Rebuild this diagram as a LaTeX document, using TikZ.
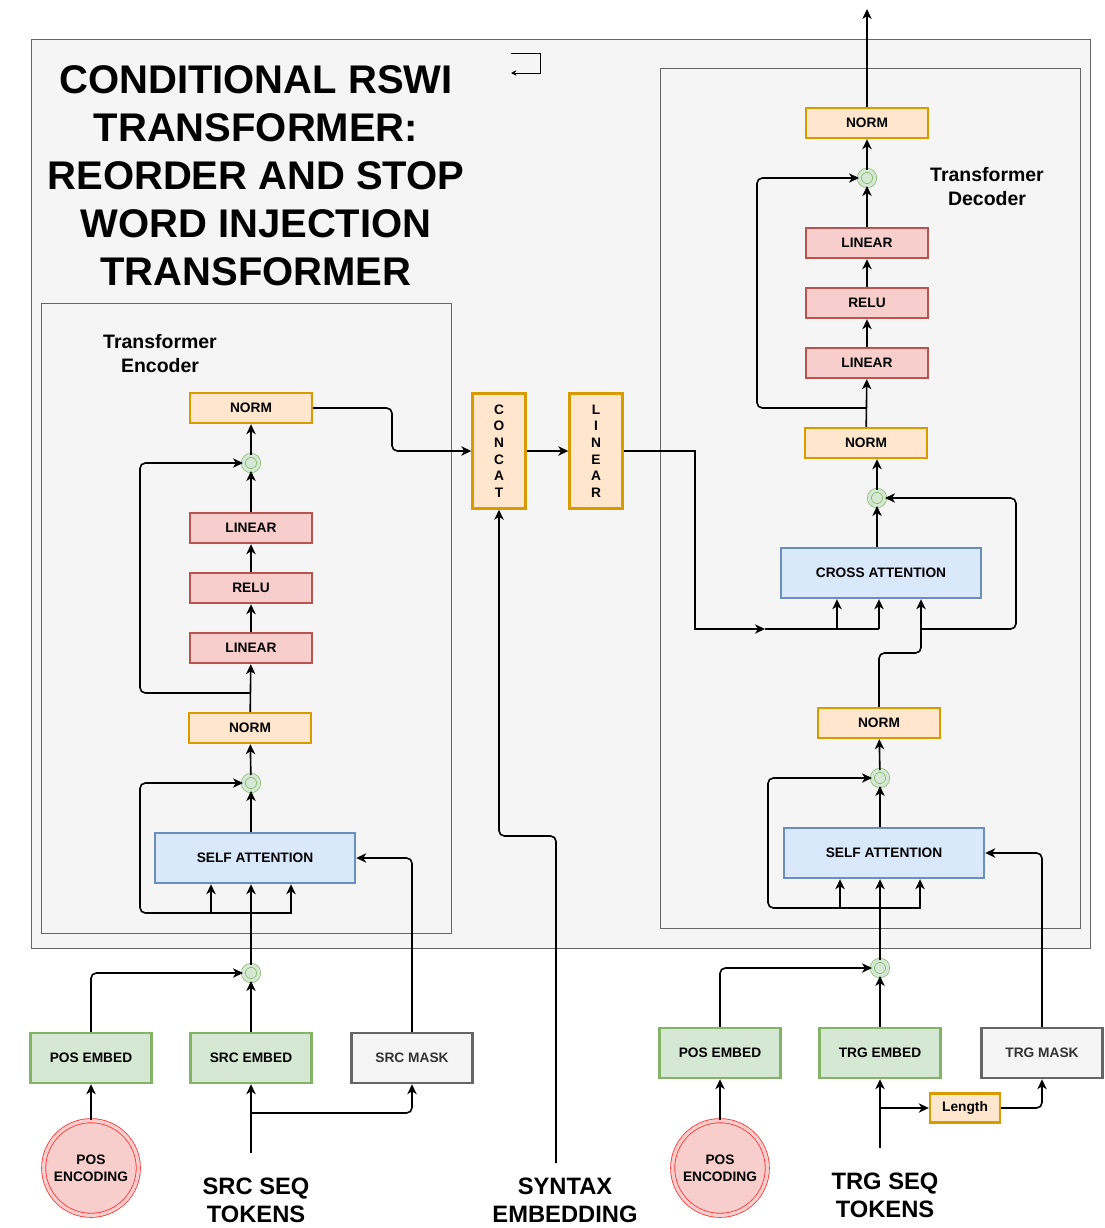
\documentclass[tikz,border=0pt]{standalone}
\usepackage{fontspec}
\setmainfont{Liberation Sans}
\usepackage{tikz}
\usepackage{xcolor}
\usetikzlibrary{arrows.meta}

\definecolor{normfill}{HTML}{FFE6CC}
\definecolor{normline}{HTML}{D79B00}
\definecolor{fffill}{HTML}{F8CECC}
\definecolor{ffline}{HTML}{B85450}
\definecolor{attnfill}{HTML}{DAE8FC}
\definecolor{attnline}{HTML}{6C8EBF}
\definecolor{embfill}{HTML}{D5E8D4}
\definecolor{embline}{HTML}{82B366}
\definecolor{maskfill}{HTML}{F5F5F5}
\definecolor{maskline}{HTML}{666666}
\definecolor{masktext}{HTML}{333333}
\definecolor{encline}{HTML}{FF3333}

\begin{document}
\begin{tikzpicture}[x=0.75pt, y=-0.75pt]
\tikzstyle{frame} = [fill=maskfill, draw=maskline, line width=0.75pt]
\tikzstyle{block} = [rectangle, inner sep=0pt, line width=1.8pt, text centered, font=\fontsize{10.3}{12.5}\selectfont\bfseries]
\tikzstyle{normbox} = [block, minimum width=91.5pt, minimum height=22.5pt, draw=normline, fill=normfill]
\tikzstyle{ffbox} = [block, minimum width=91.5pt, minimum height=22.5pt, draw=ffline, fill=fffill]
\tikzstyle{attnbox} = [block, minimum width=150pt, minimum height=37.5pt, draw=attnline, fill=attnfill]
\tikzstyle{embbox} = [block, minimum width=91pt, minimum height=37.5pt, draw=embline, fill=embfill]
\tikzstyle{maskbox} = [block, minimum width=91pt, minimum height=37.5pt, draw=maskline, fill=maskfill, text=masktext]
\tikzstyle{vertbox} = [block, minimum width=39.75pt, minimum height=86.25pt, draw=normline, fill=normfill, align=center]
\tikzstyle{lenbox} = [block, minimum width=52.5pt, minimum height=21.75pt, draw=normline, fill=normfill]
\tikzstyle{addnode} = [circle, minimum size=11.5pt, inner sep=0pt, draw=embline, double=embfill, double distance=2.5pt, line width=0.5pt, fill=embfill]
\tikzstyle{encnode} = [circle, minimum size=71pt, inner sep=0pt, draw=encline, double=fffill, double distance=2.5pt, line width=0.6pt, fill=fffill, align=center, font=\fontsize{10.3}{12.5}\selectfont\bfseries]
\tikzstyle{caption} = [align=center, font=\fontsize{14.6}{18}\selectfont\bfseries]
\tikzstyle{inputtext} = [align=center, font=\fontsize{17.8}{21}\selectfont\bfseries]
\tikzstyle{titletext} = [align=center, font=\fontsize{30}{36}\selectfont\bfseries]
\tikzstyle{arrow} = [line width=1.2pt, -{Stealth[length=7.5pt, width=7pt, inset=2.2pt]}]
\tikzstyle{line} = [line width=1.2pt]

\fill[white] (0,0) rectangle (1105,1228);
\useasboundingbox (0,0) rectangle (1105,1228);

% frames
\draw[frame] (31,39) rectangle (1090,948);
\draw[frame] (41,303) rectangle (451,933);
\draw[frame] (660,68) rectangle (1080,928);

\node (title) [titletext] at (256,176) {CONDITIONAL RSWI\\TRANSFORMER:\\REORDER AND STOP\\WORD INJECTION\\TRANSFORMER};
\node (enccap) [caption] at (160,354) {Transformer\\Encoder};
\node (deccap) [caption] at (987,187) {Transformer\\Decoder};

\coordinate (reta) at (511,53);
\coordinate (retb) at (511,73);
\draw[line width=0.75pt, -{Stealth[length=4pt, width=4pt, inset=1.2pt]}] (reta) -- ++(29,0) |- (retb);

% encoder
\node (eenc) [encnode] at (91,1168) {POS\\ENCODING};
\node (epos) [embbox] at (91,1058) {POS EMBED};
\node (esrc) [embbox] at (251,1058) {SRC EMBED};
\node (emask) [maskbox] at (412,1058) {SRC MASK};
\node (esum) [addnode] at (251,973) {};
\node (esa) [attnbox] at (255,858) {SELF ATTENTION};
\node (eaddb) [addnode] at (251,783) {};
\node (enormb) [normbox] at (250,728) {NORM};
\node (elina) [ffbox] at (251,648) {LINEAR};
\node (erelu) [ffbox] at (251,588) {RELU};
\node (elinb) [ffbox] at (251,528) {LINEAR};
\node (eaddt) [addnode] at (251,463) {};
\node (enormt) [normbox] at (251,408) {NORM};
\node (esrctok) [inputtext] at (256,1200) {SRC SEQ\\TOKENS};

% middle
\node (concat) [vertbox] at (499,451) {C\\O\\N\\C\\A\\T};
\node (mlin) [vertbox] at (596,451) {L\\I\\N\\E\\A\\R};
\node (syntok) [inputtext] at (565,1200) {SYNTAX\\EMBEDDING};

% decoder
\node (denc) [encnode] at (720,1168) {POS\\ENCODING};
\node (dpos) [embbox] at (720,1053) {POS EMBED};
\node (dtrg) [embbox] at (880,1053) {TRG EMBED};
\node (dmask) [maskbox] at (1042,1053) {TRG MASK};
\node (dlen) [lenbox] at (965,1108) {Length};
\node (dsum) [addnode] at (880,968) {};
\node (dsa) [attnbox] at (884,853) {SELF ATTENTION};
\node (daddb) [addnode] at (880,778) {};
\node (dnormb) [normbox] at (879,723) {NORM};
\node (ca) [attnbox] at (881,573) {CROSS ATTENTION};
\node (daddm) [addnode] at (877,498) {};
\node (dnormm) [normbox] at (866,443) {NORM};
\node (dlina) [ffbox] at (867,363) {LINEAR};
\node (drelu) [ffbox] at (867,303) {RELU};
\node (dlinb) [ffbox] at (867,243) {LINEAR};
\node (daddt) [addnode] at (867,178) {};
\node (dnormt) [normbox] at (867,123) {NORM};
\node (dtrgtok) [inputtext] at (885,1195) {TRG SEQ\\TOKENS};

% encoder connectors
\coordinate (esrcin) at (251,1153);
\coordinate (esrcbr) at (251,1113);
\draw[arrow] (esrcin) -- (esrc);
\draw[arrow, rounded corners=4pt] (esrcbr) -| (emask);
\draw[arrow] (eenc) -- (epos);
\draw[arrow, rounded corners=4pt] (epos) |- (esum);
\draw[arrow] (esrc) -- (esum);
\coordinate (ebr) at (251,913);
\coordinate (eq) at (211,913);
\coordinate (ek) at (291,913);
\coordinate (eres) at (140,913);
\draw[arrow] (esum) -- (esum |- esa.south);
\draw[arrow, rounded corners=4pt] (ebr) -- (eres) |- (eaddb);
\draw[arrow] (eq) -- (eq |- esa.south);
\draw[arrow] (ebr) -- (ek) -- (ek |- esa.south);
\draw[arrow, rounded corners=4pt] (emask) |- (esa.east);
\draw[arrow] (esa.north -| eaddb) -- (eaddb);
\draw[arrow] (eaddb) -- (enormb);
\coordinate (effbr) at (250,693);
\coordinate (effres) at (140,693);
\draw[arrow] (enormb) -- (elina);
\draw[arrow, rounded corners=4pt] (effbr) -- (effres) |- (eaddt);
\draw[arrow] (elina) -- (erelu);
\draw[arrow] (erelu) -- (elinb);
\draw[arrow] (elinb) -- (eaddt);
\draw[arrow] (eaddt) -- (enormt);
\coordinate (ecbend) at (392,451);
\draw[arrow, rounded corners=4pt] (enormt.east) -| (ecbend) -- (concat.west);

% middle connectors
\coordinate (synin) at (556,1163);
\coordinate (synbend) at (499,836);
\draw[arrow, rounded corners=4pt] (synin) |- (synbend) -- (concat.south);
\draw[arrow] (concat) -- (mlin);
\coordinate (cabend) at (695,629);
\coordinate (cain) at (765,629);
\coordinate (caq) at (837,629);
\coordinate (cak) at (879,629);
\draw[arrow] (mlin.east) -| (cabend) -- (cain);
\draw[line] (cain) -- (cak);
\draw[arrow] (caq) -- (caq |- ca.south);
\draw[arrow] (cak) -- (cak |- ca.south);

% decoder connectors
\coordinate (dtrgin) at (880,1148);
\coordinate (dtrgbr) at (880,1108);
\draw[arrow] (dtrgin) -- (dtrg);
\draw[arrow] (dtrgbr) -- (dlen);
\draw[arrow, rounded corners=4pt] (dlen) -| (dmask);
\draw[arrow] (denc) -- (dpos);
\draw[arrow, rounded corners=4pt] (dpos) |- (dsum);
\draw[arrow] (dtrg) -- (dsum);
\coordinate (dbr) at (880,908);
\coordinate (dq) at (840,908);
\coordinate (dk) at (920,908);
\coordinate (dres) at (768,908);
\draw[arrow] (dsum) -- (dsum |- dsa.south);
\draw[arrow, rounded corners=4pt] (dbr) -- (dres) |- (daddb);
\draw[arrow] (dq) -- (dq |- dsa.south);
\draw[arrow] (dbr) -- (dk) -- (dk |- dsa.south);
\draw[arrow, rounded corners=4pt] (dmask) |- (dsa.east);
\draw[arrow] (dsa.north -| daddb) -- (daddb);
\draw[arrow] (daddb) -- (dnormb);
\coordinate (dxj) at (921,653);
\coordinate (dxr) at (921,629);
\coordinate (dxe) at (1016,629);
\draw[arrow, rounded corners=4pt] (dnormb) |- (dxj) -- (dxj |- ca.south);
\draw[arrow, rounded corners=4pt] (dxr) -- (dxe) |- (daddm);
\draw[arrow] (ca.north -| daddm) -- (daddm);
\draw[arrow] (daddm) -- (daddm |- dnormm.south);
\coordinate (dffbr) at (866,408);
\coordinate (dffres) at (757,408);
\draw[arrow] (dnormm) -- (dlina);
\draw[arrow, rounded corners=4pt] (dffbr) -- (dffres) |- (daddt);
\draw[arrow] (dlina) -- (drelu);
\draw[arrow] (drelu) -- (dlinb);
\draw[arrow] (dlinb) -- (daddt);
\draw[arrow] (daddt) -- (dnormt);
\coordinate (dout) at (867,9);
\draw[arrow] (dnormt) -- (dout);
\end{tikzpicture}
\end{document}
